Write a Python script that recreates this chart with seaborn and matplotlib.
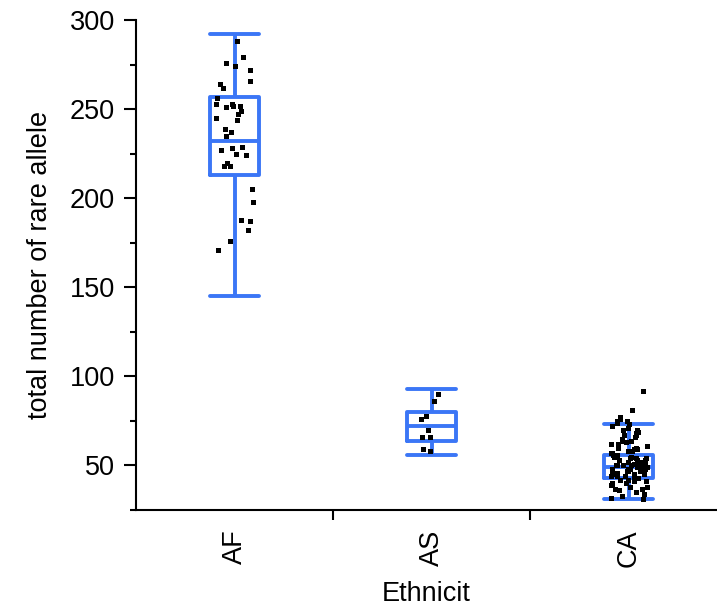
import numpy as np
import pandas as pd
import matplotlib
matplotlib.use("Agg")
import matplotlib.pyplot as plt
from matplotlib.ticker import FixedLocator
import seaborn as sns

# ---- data ----
categories = ["AF", "AS", "CA"]
box_low = [145, 56, 31]
box_q1 = [213, 64, 43]
box_med = [232, 72, 49]
box_q3 = [257, 80, 56]
box_high = [292, 93, 73]

af_points = [288, 279, 276, 274, 272, 266, 264, 262, 256, 253, 253, 252, 252,
             251, 249, 247, 245, 244, 239, 237, 235, 229, 228, 227, 225, 224,
             220, 218, 218, 205, 198, 188, 187, 182, 176, 171]
as_points = [90, 86, 78, 76, 70, 66, 66, 59, 58]
ca_points = [92, 81, 77, 76, 75, 75, 74, 73, 72, 71, 70, 70, 69, 68, 67, 67,
             66, 65, 64, 64, 63, 62, 62, 61, 60, 60, 59, 59, 58, 58, 57, 57,
             56, 56, 56, 55, 55, 55, 54, 54, 54, 53, 53, 53, 52, 52, 52, 52,
             51, 51, 51, 51, 50, 50, 50, 50, 49, 49, 49, 49, 48, 48, 48, 48,
             47, 47, 47, 46, 46, 46, 45, 45, 45, 44, 44, 44, 43, 43, 42, 42,
             41, 41, 40, 40, 39, 39, 38, 38, 37, 37, 36, 35, 34, 33, 32, 31]

y_label = "total number of rare allele"
x_label = "Ethnicit"

# ---- tables ----
box_rows = []
for c, lo, q1, md, q3, hi in zip(categories, box_low, box_q1, box_med, box_q3, box_high):
    for v in (lo, q1, md, q3, hi):
        box_rows.append((c, v))
box_df = pd.DataFrame(box_rows, columns=["Ethnicit", "value"])

pt_rows = [("AF", v) for v in af_points] + [("AS", v) for v in as_points] + \
          [("CA", v) for v in ca_points]
pt_df = pd.DataFrame(pt_rows, columns=["Ethnicit", "value"])

# ---- style ----
sns.set_theme(style="ticks")
plt.rcParams["font.family"] = ["Liberation Sans", "DejaVu Sans"]
blue = "#3B76F6"

fig = plt.figure(figsize=(7.17, 6.09), dpi=100)
ax = fig.add_axes([136 / 717, 1 - 510 / 609, (717 - 136) / 717, 490 / 609])

sns.boxplot(data=box_df, x="Ethnicit", y="value", order=categories,
            whis=(0, 100), width=0.25, fill=False, color=blue,
            linewidth=2.8, showfliers=False, capwidths=0.25, ax=ax)

np.random.seed(3)
sns.stripplot(data=pt_df, x="Ethnicit", y="value", order=categories,
              jitter=0.1, color="black", marker="s", size=3.6,
              linewidth=0, ax=ax, zorder=5)

ax.set_xlim(-0.5, -0.5 + 581 / 197)
ax.set_ylim(25, 300)

ax.yaxis.set_major_locator(FixedLocator([50, 100, 150, 200, 250, 300]))
ax.yaxis.set_minor_locator(FixedLocator([25, 75, 125, 175, 225, 275]))
ax.xaxis.set_minor_locator(FixedLocator([0.5, 1.5]))

ax.tick_params(axis="y", which="major", length=9, width=1.5, labelsize=19.5,
               direction="out", color="black", labelcolor="black", pad=6)
ax.tick_params(axis="y", which="minor", length=4.5, width=1.5, direction="out",
               color="black")
ax.tick_params(axis="x", which="major", length=0, labelsize=19.5,
               labelrotation=90, pad=14, labelcolor="black")
ax.tick_params(axis="x", which="minor", length=7, width=1.5, direction="out",
               color="black")

for s in ["top", "right"]:
    ax.spines[s].set_visible(False)
for s in ["left", "bottom"]:
    ax.spines[s].set_linewidth(1.5)
    ax.spines[s].set_color("black")

ax.set_ylabel(y_label, fontsize=19.5, color="black", labelpad=12)
ax.set_xlabel(x_label, fontsize=19.5, color="black", labelpad=10)

fig.savefig("out.png", dpi=100)
